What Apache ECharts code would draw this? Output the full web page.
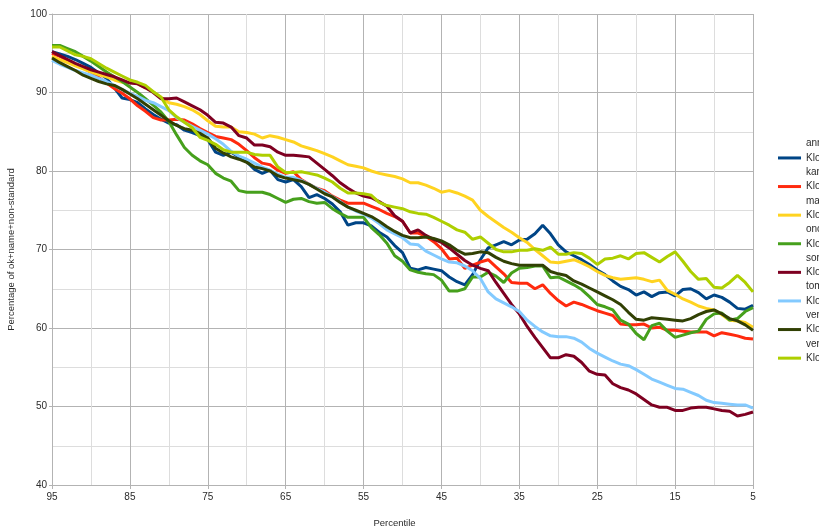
<!DOCTYPE html>
<html>
<head>
<meta charset="utf-8">
<script src="https://cdn.jsdelivr.net/npm/echarts@6/dist/echarts.min.js"></script>
<style>html,body{margin:0;padding:0;background:#fff}#c{width:819px;height:527px}</style>
</head>
<body>
<div id="c"></div>
<script>
// Percentiles from 95 down to 5
const percentiles = [95,94,93,92,91,90,89,88,87,86,85,84,83,82,81,80,79,78,77,76,75,74,73,72,71,70,69,68,67,66,65,64,63,62,61,60,59,58,57,56,55,54,53,52,51,50,49,48,47,46,45,44,43,42,41,40,39,38,37,36,35,34,33,32,31,30,29,28,27,26,25,24,23,22,21,20,19,18,17,16,15,14,13,12,11,10,9,8,7,6,5];

const seriesNames = ["ann Klo", "kar Klo", "ma Klo", "onc Klo", "sor Klo", "tom Klo", "ver Klo", "ver Klo "];
const seriesColors = ["#004586", "#ff2a0e", "#ffd320", "#46a01c", "#7e0021", "#83caff", "#314004", "#aecf00"];

const annKlo = [95.2,94.9,94.6,94.2,93.7,93.2,92.5,91.8,90.6,89.3,89.1,88.7,87.9,87.2,86.6,86.1,85.9,85.2,84.9,84.5,84.0,82.4,82.0,82.4,81.8,81.2,80.2,79.7,80.1,78.9,78.6,78.9,78.0,76.6,77.0,76.5,75.8,74.8,73.1,73.4,73.4,73.0,72.2,71.6,70.5,69.6,67.6,67.4,67.7,67.5,67.3,66.5,65.9,65.5,66.8,68.7,70.2,70.6,71.0,70.6,71.2,71.3,72.0,73.1,72.0,70.6,69.7,69.2,68.7,68.1,67.4,66.8,66.0,65.3,64.9,64.2,64.6,64.0,64.5,64.6,64.1,64.9,65.0,64.5,63.7,64.2,63.9,63.3,62.5,62.4,62.9];
const karKlo = [95.0,94.6,94.1,93.6,93.1,92.6,91.9,91.2,90.5,89.9,89.2,88.3,87.6,86.8,86.5,86.5,86.6,86.5,86.0,85.4,84.9,84.4,84.2,84.0,83.4,82.6,81.7,81.0,80.8,80.1,79.7,79.9,78.9,78.3,77.8,77.5,76.8,76.3,75.9,75.9,75.9,75.5,75.1,74.6,74.2,73.6,72.1,72.1,71.7,71.0,70.1,68.8,68.9,67.6,68.0,68.4,68.7,67.8,66.9,65.8,65.7,65.7,65.0,65.5,64.4,63.5,62.8,63.3,63.0,62.6,62.2,61.9,61.6,60.5,60.4,60.4,60.5,60.0,60.1,59.7,59.7,59.6,59.5,59.5,59.5,59.0,59.4,59.2,59.0,58.7,58.6];
const maKlo = [94.6,94.2,93.8,93.4,93.0,92.6,92.3,92.0,91.6,91.3,91.3,91.1,90.6,90.1,89.4,88.7,88.5,88.2,87.8,87.2,86.4,85.7,85.6,85.6,85.0,84.9,84.7,84.2,84.5,84.3,84.0,83.7,83.2,82.9,82.6,82.2,81.8,81.3,80.8,80.6,80.4,80.0,79.7,79.5,79.3,79.0,78.5,78.5,78.2,77.8,77.3,77.5,77.2,76.8,76.3,75.0,74.2,73.5,72.8,72.2,71.5,70.9,70.0,69.2,68.4,68.3,68.5,68.7,68.3,67.8,67.2,66.7,66.4,66.2,66.3,66.4,66.2,65.9,66.1,64.8,64.3,63.7,63.3,62.8,62.5,62.3,61.7,61.0,60.9,60.7,60.1];
const oncKlo = [96.0,96.0,95.6,95.2,94.6,94.0,93.3,92.6,92.0,91.4,90.7,90.0,89.2,88.4,87.5,86.3,84.6,83.0,82.0,81.3,80.8,79.7,79.1,78.7,77.5,77.3,77.3,77.3,77.0,76.5,76.0,76.4,76.5,76.1,75.9,76.0,75.2,74.6,74.1,74.1,74.1,72.8,71.9,70.8,69.2,68.5,67.4,67.1,66.9,66.8,66.1,64.7,64.7,65.0,66.5,66.5,67.1,66.6,65.8,67.0,67.6,67.7,67.9,67.9,66.4,66.5,66.0,65.5,64.9,64.0,63.0,62.7,62.3,61.0,60.5,59.3,58.5,60.3,60.6,59.6,58.8,59.1,59.4,59.6,61.1,61.8,61.9,61.0,61.2,62.1,62.6];
const sorKlo = [95.2,94.7,94.2,93.7,93.3,92.9,92.6,92.3,92.0,91.6,91.2,91.1,90.6,90.0,89.2,89.2,89.3,88.8,88.3,87.8,87.1,86.2,86.1,85.6,84.5,84.2,83.3,83.3,83.1,82.4,82.0,82.0,81.9,81.8,81.0,80.2,79.4,78.5,77.8,77.2,76.8,76.6,76.1,75.5,74.3,73.6,72.1,72.5,71.8,71.3,70.9,70.2,69.4,68.6,68.0,67.6,67.3,65.8,64.4,63.0,61.8,60.2,58.8,57.5,56.2,56.2,56.6,56.4,55.6,54.5,54.1,54.0,52.9,52.4,52.1,51.6,50.9,50.2,49.9,49.9,49.5,49.5,49.8,49.9,49.9,49.7,49.5,49.4,48.8,49.0,49.3];
const tomKlo = [94.1,93.6,93.2,92.8,92.5,92.2,91.8,91.4,90.9,90.4,89.9,89.5,89.0,88.7,88.2,87.7,86.8,86.2,85.7,85.2,84.7,84.1,83.4,82.5,81.9,81.5,81.0,80.5,80.1,79.6,79.2,79.2,78.8,78.3,77.8,77.3,76.7,76.1,75.4,74.9,74.5,74.0,73.3,72.5,72.0,71.5,70.7,70.6,69.8,69.3,68.8,68.4,68.3,67.9,67.3,66.3,64.6,63.7,63.2,62.7,62.1,61.0,60.2,59.5,59.0,58.9,58.9,58.7,58.2,57.4,56.8,56.3,55.8,55.4,55.2,54.7,54.1,53.5,53.1,52.7,52.3,52.2,51.8,51.4,50.8,50.5,50.4,50.3,50.2,50.2,49.8];
const verKlo1 = [94.4,93.8,93.3,92.8,92.2,91.8,91.4,91.1,90.9,90.4,89.8,89.2,88.5,87.8,87.1,86.4,85.8,85.4,85.2,84.8,84.2,82.9,82.3,81.8,81.5,81.1,80.5,80.3,80.0,79.4,79.1,78.9,78.7,78.3,77.7,77.1,76.7,76.0,75.4,75.0,74.6,74.2,73.6,72.9,72.3,71.8,71.5,71.5,71.6,71.4,71.1,70.6,69.9,69.4,69.5,69.7,69.6,69.0,68.5,68.2,68.0,68.0,68.0,68.0,67.2,66.9,66.7,66.0,65.6,65.1,64.6,64.1,63.6,63.0,62.0,61.1,61.0,61.3,61.2,61.1,61.0,60.9,61.2,61.7,62.1,62.3,61.8,61.2,60.9,60.4,59.7];
const verKlo2 = [95.8,95.8,95.3,94.8,94.6,94.3,93.7,93.1,92.6,92.1,91.6,91.3,90.9,90.1,89.4,87.8,86.9,86.2,85.5,84.3,83.9,83.4,82.7,82.4,82.4,82.4,82.1,82.0,82.0,80.5,79.8,79.8,79.9,79.7,79.5,79.1,78.6,77.8,77.2,77.2,77.1,76.9,76.0,75.6,75.4,75.2,74.8,74.6,74.5,74.1,73.6,73.1,72.5,72.2,71.3,71.6,70.8,70.0,69.7,69.7,69.9,69.9,70.1,69.9,70.3,69.4,69.4,69.6,69.5,68.9,68.1,68.8,68.9,69.2,68.8,69.5,69.6,69.0,68.4,69.1,69.7,68.5,67.2,66.2,66.3,65.2,65.1,65.8,66.7,65.8,64.6];

const yTicks = [40, 50, 60, 70, 80, 90, 100];
const xTicks = [95, 85, 75, 65, 55, 45, 35, 25, 15, 5];

const allValues = [annKlo, karKlo, maKlo, oncKlo, sorKlo, tomKlo, verKlo1, verKlo2];

const chart = echarts.init(document.getElementById('c'), null, {renderer: 'canvas'});
const font = 'Liberation Sans';
const gridColor = '#b3b3b3';
const minorColor = '#dddddd';
const textColor = '#2b2b2b';

chart.setOption({
  animation: false,
  backgroundColor: '#ffffff',
  grid: {left: 52, right: 66, top: 14, bottom: 42, containLabel: false, outerBoundsMode: 'none'},
  legend: {
    orient: 'vertical',
    left: 778,
    top: 136.5,
    padding: 0,
    itemGap: -14.3,
    itemWidth: 23,
    itemHeight: 3,
    icon: 'rect',
    data: seriesNames,
    formatter: function (name) { return name.trim().replace(' ', '\n') + '\n '; },
    textStyle: {fontFamily: font, fontSize: 10, color: textColor, lineHeight: 14.3}
  },
  xAxis: {
    type: 'value',
    inverse: true,
    min: 5,
    max: 95,
    interval: 10,
    name: 'Percentile',
    nameLocation: 'middle',
    nameGap: 33,
    nameTextStyle: {fontFamily: font, fontSize: 9.5, color: textColor, padding: [0, 16, 0, 0]},
    axisLine: {show: true, lineStyle: {color: gridColor, width: 1}},
    axisTick: {show: true, length: 4, lineStyle: {color: gridColor}},
    axisLabel: {fontFamily: font, fontSize: 10, color: textColor, margin: 7,
      formatter: function (v) { return xTicks.indexOf(v) >= 0 ? String(v) : ''; }},
    splitLine: {show: true, lineStyle: {color: gridColor, width: 1}},
    minorTick: {show: false, splitNumber: 2},
    minorSplitLine: {show: true, lineStyle: {color: minorColor, width: 1}}
  },
  yAxis: {
    type: 'value',
    min: 40,
    max: 100,
    interval: 10,
    name: 'Percentage of ok+name+non-standard',
    nameLocation: 'middle',
    nameGap: 36,
    nameTextStyle: {fontFamily: font, fontSize: 9.5, color: textColor},
    axisLine: {show: true, lineStyle: {color: gridColor, width: 1}},
    axisTick: {show: true, length: 3, lineStyle: {color: gridColor}},
    axisLabel: {fontFamily: font, fontSize: 10, color: textColor, margin: 5,
      formatter: function (v) { return yTicks.indexOf(v) >= 0 ? String(v) : ''; }},
    splitLine: {show: true, lineStyle: {color: gridColor, width: 1}},
    minorTick: {show: false, splitNumber: 2},
    minorSplitLine: {show: true, lineStyle: {color: minorColor, width: 1}}
  },
  series: seriesNames.map(function (n, i) {
    return {
      name: n,
      type: 'line',
      symbol: 'none',
      smooth: false,
      color: seriesColors[i],
      itemStyle: {color: seriesColors[i]},
      lineStyle: {color: seriesColors[i], width: 3},
      data: percentiles.map(function (p, j) { return [p, allValues[i][j]]; })
    };
  })
});
</script>
</body>
</html>
